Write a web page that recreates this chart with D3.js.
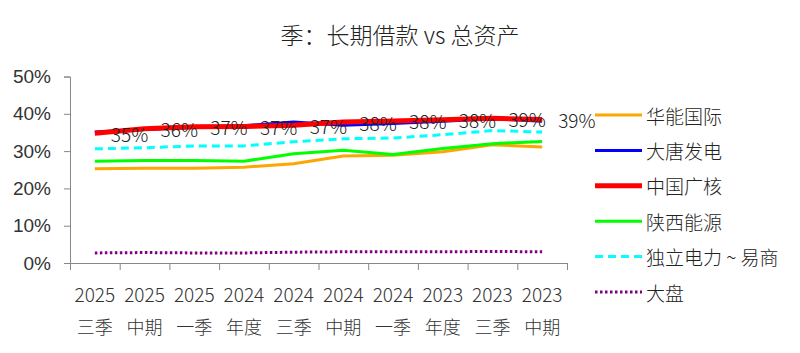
<!DOCTYPE html>
<html>
<head>
<meta charset="utf-8">
<script src="https://cdn.jsdelivr.net/npm/d3@7"></script>
<style>
  body { margin: 0; background: #fff; }
  svg { font-family: "Noto Sans CJK SC", "Noto Sans", sans-serif; font-weight: 300; }
</style>
</head>
<body>
<div id="chart"></div>
<script>
let years = ['2025', '2025', '2025', '2024', '2024', '2024', '2024', '2023', '2023', '2023'];
let periods = ['三季', '中期', '一季', '年度', '三季', '中期', '一季', '年度', '三季', '中期'];
let yTicks = [0, 0.1, 0.2, 0.3, 0.4, 0.5];

let huaneng = [0.253, 0.254, 0.254, 0.257, 0.266, 0.287, 0.289, 0.298, 0.317, 0.311];
let datang = [0.351, 0.358, 0.363, 0.368, 0.378, 0.369, 0.374, 0.380, 0.387, 0.380];
let cgn = [0.348, 0.360, 0.365, 0.366, 0.369, 0.378, 0.381, 0.384, 0.388, 0.385];
let shaanxi = [0.273, 0.275, 0.275, 0.273, 0.293, 0.302, 0.291, 0.307, 0.320, 0.326];
let duli = [0.306, 0.309, 0.314, 0.314, 0.325, 0.333, 0.335, 0.344, 0.355, 0.351];
let dapan = [0.027, 0.028, 0.027, 0.027, 0.029, 0.030, 0.030, 0.030, 0.031, 0.030];

let seriesNames = ['华能国际', '大唐发电', '中国广核', '陕西能源', '独立电力 ~ 易商', '大盘'];

let series = [
    {name: seriesNames[0], values: huaneng, color: '#ffa500', width: 3, dash: null},
    {name: seriesNames[1], values: datang, color: '#0000ff', width: 3, dash: null},
    {name: seriesNames[2], values: cgn, color: '#ff0000', width: 5, dash: null},
    {name: seriesNames[3], values: shaanxi, color: '#00ff00', width: 3, dash: null},
    {name: seriesNames[4], values: duli, color: '#00ffff', width: 3, dash: '8,5'},
    {name: seriesNames[5], values: dapan, color: '#800080', width: 3, dash: '2.5,2.5'}
];

let width = 800, height = 353;
let idx = d3.range(years.length);

let x = d3.scaleBand().domain(idx).range([70, 567]);
let xEdge = d3.scaleLinear().domain([0, years.length]).range([70, 567]);
let y = d3.scaleLinear().domain([0, 0.5]).range([263, 76.5]);

let svg = d3.select('#chart')
    .append('svg')
    .attr('width', width)
    .attr('height', height);

// title
svg.append('text')
    .attr('x', 400)
    .attr('y', 34)
    .attr('text-anchor', 'middle')
    .attr('dominant-baseline', 'central')
    .attr('font-size', 23)
    .attr('fill', '#222')
    .text('季：长期借款 vs 总资产');

// y axis
let yAxis = svg.append('g')
    .attr('transform', 'translate(70,0)')
    .call(d3.axisLeft(y).tickValues(yTicks).tickSize(6).tickPadding(13).tickFormat(d3.format('.0%')));
yAxis.selectAll('path, line').attr('stroke', '#888');
yAxis.selectAll('text').attr('font-size', 19).attr('fill', '#333').attr('font-family', 'inherit');

// x axis, ticks between categories
let xAxis = svg.append('g')
    .attr('transform', 'translate(0,263)')
    .call(d3.axisBottom(xEdge).tickValues(d3.range(years.length + 1)).tickSize(7).tickSizeOuter(0).tickFormat(''));
xAxis.selectAll('path, line').attr('stroke', '#888');

let xLab = svg.append('g').attr('fill', '#333').attr('text-anchor', 'middle');
xLab.selectAll('text.year')
    .data(idx)
    .join('text')
    .attr('class', 'year')
    .attr('x', d => x(d) + x.bandwidth() / 2)
    .attr('y', 293)
    .attr('dominant-baseline', 'central')
    .attr('font-size', 19)
    .text(d => years[d]);
xLab.selectAll('text.period')
    .data(idx)
    .join('text')
    .attr('class', 'period')
    .attr('x', d => x(d) + x.bandwidth() / 2)
    .attr('y', 326)
    .attr('dominant-baseline', 'central')
    .attr('font-size', 18)
    .text(d => periods[d]);

// lines
let line = d3.line()
    .x((d, i) => x(i) + x.bandwidth() / 2)
    .y(d => y(d));

svg.append('g')
    .selectAll('path')
    .data(series)
    .join('path')
    .attr('d', d => line(d.values))
    .attr('fill', 'none')
    .attr('stroke', d => d.color)
    .attr('stroke-width', d => d.width)
    .attr('stroke-dasharray', d => d.dash)
    .attr('stroke-linejoin', 'round');

// data labels for 中国广核
svg.append('g')
    .selectAll('text')
    .data(cgn)
    .join('text')
    .attr('x', (d, i) => x(i) + x.bandwidth() / 2 + 16)
    .attr('y', d => y(d))
    .attr('dominant-baseline', 'central')
    .attr('font-size', 19)
    .attr('fill', '#222')
    .text(d => d3.format('.0%')(d));

// legend
let legend = svg.append('g')
    .selectAll('g')
    .data(series)
    .join('g')
    .attr('transform', (d, i) => `translate(595,${115 + i * 35.4})`);
legend.append('line')
    .attr('x1', 0).attr('x2', 47)
    .attr('stroke', d => d.color)
    .attr('stroke-width', d => d.width)
    .attr('stroke-dasharray', d => d.dash);
legend.append('text')
    .attr('x', 51)
    .attr('dominant-baseline', 'central')
    .attr('font-size', 19)
    .attr('fill', '#222')
    .text(d => d.name);
</script>
</body>
</html>
